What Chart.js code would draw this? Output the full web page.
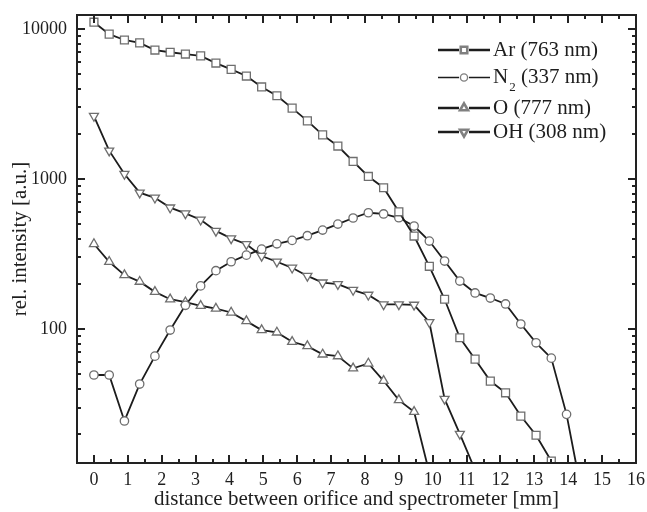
<!DOCTYPE html>
<html>
<head>
<meta charset="utf-8">
<script src="https://cdn.jsdelivr.net/npm/chart.js@4.4.0/dist/chart.umd.min.js"></script>
<style>
  html, body { margin: 0; padding: 0; background: #fff; }
  canvas { display: block; }
</style>
</head>
<body>
<canvas id="chart" width="647" height="512"></canvas>
<script>
// ---------- data ----------
const distance = [0, 0.45, 0.9, 1.35, 1.8, 2.25, 2.7, 3.15, 3.6, 4.05, 4.5, 4.95, 5.4, 5.85,
  6.3, 6.75, 7.2, 7.65, 8.1, 8.55, 9.0, 9.45, 9.9, 10.35, 10.8, 11.25, 11.7, 12.15,
  12.6, 13.05, 13.5, 13.95, 14.4];

const ar = [11100, 9250, 8450, 8090, 7240, 7000, 6810, 6620, 5930, 5380, 4860, 4110, 3590,
  2970, 2440, 1970, 1660, 1310, 1040, 875, 605, 417, 262, 158, 87.5, 63, 45, 37.6, 26.3,
  19.6, 13.2];
const n2 = [49.4, 49.4, 24.4, 43, 66, 98.5, 144, 194, 245, 281, 311, 341, 370, 390, 419,
  457, 501, 550, 596, 585, 552, 486, 386, 284, 209, 174, 161, 147, 108, 81, 64, 27, 8];
const o = [369, 281, 229, 207, 177, 158, 151, 143, 137, 129, 113, 98.5, 95, 82.3, 77,
  67.8, 66, 54.7, 59, 45.2, 33.6, 28.1, 11];
const oh = [2630, 1545, 1080, 811, 750, 645, 590, 535, 451, 402, 368, 307, 281, 256, 226,
  204, 199, 182, 169, 146, 146, 145, 111, 34.2, 20, 11.5];

const labels = ["Ar (763 nm)", "N₂ (337 nm)", "O (777 nm)", "OH (308 nm)"];

const xTicks = [0, 1, 2, 3, 4, 5, 6, 7, 8, 9, 10, 11, 12, 13, 14, 15, 16];
const yTicks = [100, 1000, 10000];
const yMinorTicks = [20, 30, 40, 50, 60, 70, 80, 90, 200, 300, 400, 500, 600, 700, 800, 900,
  2000, 3000, 4000, 5000, 6000, 7000, 8000, 9000];

// ---------- helpers ----------
const FONT = "'Liberation Serif', 'DejaVu Serif', serif";
const toPoints = (vals) => vals.map((v, i) => ({ x: distance[i], y: v }));

function series(label, vals, style, rotation, radius, legendWidth) {
  return {
    label,
    data: toPoints(vals),
    showLine: true,
    borderColor: "#1c1c1c",
    borderWidth: 1.8,
    pointStyle: style,
    pointRotation: rotation,
    pointRadius: radius,
    pointBackgroundColor: "#fff",
    pointBorderColor: "#6e6e6e",
    pointBorderWidth: 1.3,
    legendWidth,
  };
}

// frame + inward ticks on all four sides
const frameTicks = {
  id: "frameTicks",
  afterDatasetsDraw(chart) {
    const { ctx, chartArea: a, scales: { x, y } } = chart;
    ctx.save();
    ctx.strokeStyle = "#222";
    ctx.lineWidth = 2;
    ctx.strokeRect(a.left, a.top, a.right - a.left, a.bottom - a.top);
    ctx.beginPath();
    const xTick = (v, len) => {
      const px = Math.round(x.getPixelForValue(v));
      ctx.moveTo(px, a.bottom); ctx.lineTo(px, a.bottom - len);
      ctx.moveTo(px, a.top); ctx.lineTo(px, a.top + len);
    };
    const yTick = (v, len) => {
      const py = Math.round(y.getPixelForValue(v));
      ctx.moveTo(a.left, py); ctx.lineTo(a.left + len, py);
      ctx.moveTo(a.right, py); ctx.lineTo(a.right - len, py);
    };
    xTicks.forEach((v) => xTick(v, 8));
    xTicks.slice(1).forEach((v, i) => xTick((v + xTicks[i]) / 2, 4));
    yTicks.forEach((v) => yTick(v, 8));
    yMinorTicks.forEach((v) => yTick(v, 4));
    ctx.stroke();
    ctx.restore();
  },
};

// legend: line - marker - line, then label (with subscript for N₂)
const legendRows = [50, 77.5, 108, 132];
const lineLegend = {
  id: "lineLegend",
  afterDraw(chart) {
    const ctx = chart.ctx;
    ctx.save();
    chart.data.datasets.forEach((ds, i) => {
      const yy = legendRows[i];
      ctx.strokeStyle = "#1c1c1c";
      ctx.lineWidth = ds.legendWidth;
      ctx.beginPath();
      ctx.moveTo(438, yy); ctx.lineTo(459, yy);
      ctx.moveTo(469, yy); ctx.lineTo(490, yy);
      ctx.stroke();
      ctx.fillStyle = "#fff";
      ctx.strokeStyle = "#808080";
      Chart.helpers.drawPoint(ctx, {
        pointStyle: ds.pointStyle, rotation: ds.pointRotation,
        radius: ds.pointStyle === "circle" ? 3.6 : 4.6, borderWidth: 1,
      }, 464, yy);
      ctx.fillStyle = "#1e1e1e";
      ctx.textBaseline = "middle";
      ctx.font = "21px " + FONT;
      let tx = 493;
      const parts = ds.label.split("₂");
      ctx.fillText(parts[0], tx, yy);
      tx += ctx.measureText(parts[0]).width;
      if (parts.length > 1) {
        ctx.font = "13px " + FONT;
        ctx.fillText("2", tx + 1, yy + 10);
        tx += ctx.measureText("2").width + 1;
        ctx.font = "21px " + FONT;
        ctx.fillText(parts[1], tx, yy);
      }
    });
    ctx.restore();
  },
};

new Chart(document.getElementById("chart"), {
  type: "scatter",
  data: {
    datasets: [
      series(labels[0], ar, "rect", 0, 5.6, 2.6),
      series(labels[1], n2, "circle", 0, 4.2, 1.4),
      series(labels[2], o, "triangle", 0, 5.2, 2.6),
      series(labels[3], oh, "triangle", 180, 5.2, 2.6),
    ],
  },
  options: {
    responsive: false,
    animation: false,
    layout: { padding: { top: 15, right: 11, left: 0, bottom: 0 } },
    plugins: { legend: { display: false }, tooltip: { enabled: false } },
    scales: {
      x: {
        type: "linear",
        min: -0.5,
        max: 16,
        afterBuildTicks: (axis) => { axis.ticks = xTicks.map((v) => ({ value: v })); },
        afterFit: (axis) => { axis.height = 49; axis.paddingLeft = 0; axis.paddingRight = 0; },
        grid: { display: false, drawTicks: false },
        border: { display: false },
        ticks: { color: "#1e1e1e", font: { family: FONT, size: 18 }, padding: 6, maxRotation: 0 },
        title: {
          display: true,
          text: "distance between orifice and spectrometer [mm]",
          color: "#1e1e1e",
          font: { family: FONT, size: 21 },
          padding: { top: 0, bottom: 0 },
        },
      },
      y: {
        type: "logarithmic",
        min: 12.8,
        max: 12400,
        afterBuildTicks: (axis) => { axis.ticks = yTicks.map((v) => ({ value: v })); },
        afterFit: (axis) => { axis.width = 77; axis.paddingTop = 0; axis.paddingBottom = 0; },
        grid: { display: false, drawTicks: false },
        border: { display: false },
        ticks: {
          color: "#1e1e1e",
          font: { family: FONT, size: 18 },
          padding: 10,
          callback: (v) => String(v),
        },
        title: {
          display: true,
          text: "rel. intensity [a.u.]",
          color: "#1e1e1e",
          font: { family: FONT, size: 21 },
          padding: { top: 8, bottom: 0 },
        },
      },
    },
  },
  plugins: [frameTicks, lineLegend],
});
</script>
</body>
</html>
